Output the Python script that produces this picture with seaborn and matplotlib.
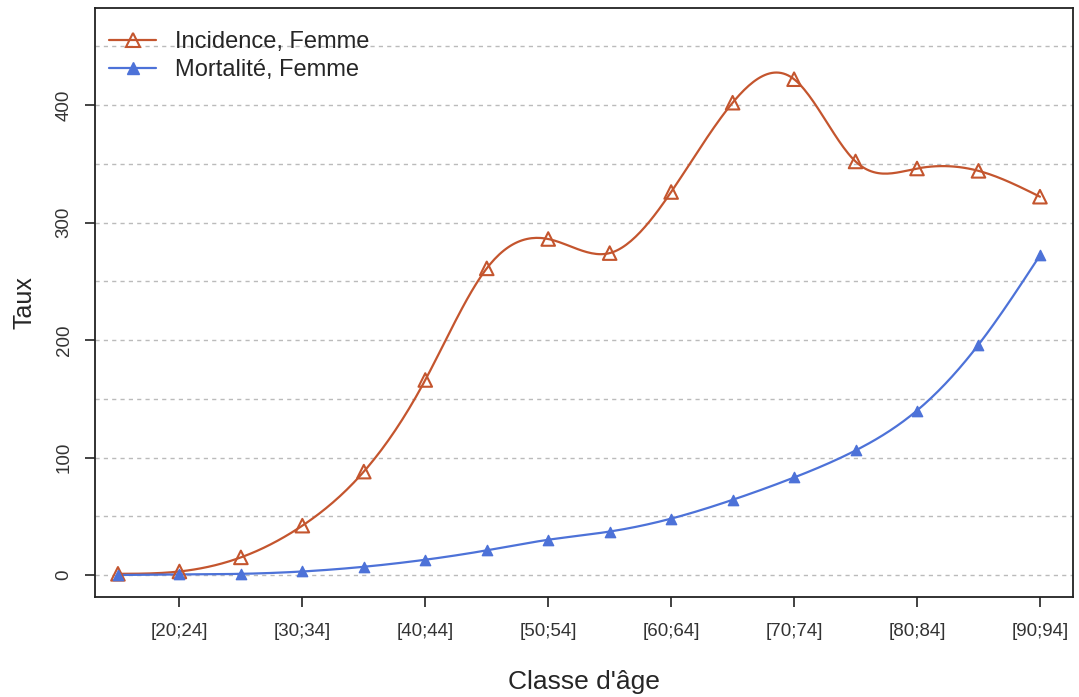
import numpy as np
import pandas as pd
import seaborn as sns
import matplotlib.pyplot as plt

# age classes and rates
classes = ["[15;19]", "[20;24]", "[25;29]", "[30;34]", "[35;39]", "[40;44]",
           "[45;49]", "[50;54]", "[55;59]", "[60;64]", "[65;69]", "[70;74]",
           "[75;79]", "[80;84]", "[85;89]", "[90;94]"]
incidence = [1, 3, 15, 42, 88, 166, 261, 286, 274, 326, 402, 422, 352, 346, 344, 322]
mortalite = [0, 0.5, 1, 3, 7, 13, 21, 30, 37, 48, 64, 83, 106, 140, 196, 272]

col_inc = "#C4552E"
col_mort = "#4D72D8"


def natural_spline(x, y, n=400):
    # plain natural cubic spline, like R's spline()
    x = np.asarray(x, float)
    y = np.asarray(y, float)
    h = np.diff(x)
    m = len(x)
    A = np.zeros((m, m))
    b = np.zeros(m)
    A[0, 0] = A[-1, -1] = 1
    for i in range(1, m - 1):
        A[i, i - 1] = h[i - 1]
        A[i, i] = 2 * (h[i - 1] + h[i])
        A[i, i + 1] = h[i]
        b[i] = 3 * ((y[i + 1] - y[i]) / h[i] - (y[i] - y[i - 1]) / h[i - 1])
    c = np.linalg.solve(A, b)
    xs = np.linspace(x[0], x[-1], n)
    idx = np.clip(np.searchsorted(x, xs) - 1, 0, m - 2)
    dx = xs - x[idx]
    bb = (y[idx + 1] - y[idx]) / h[idx] - h[idx] * (2 * c[idx] + c[idx + 1]) / 3
    dd = (c[idx + 1] - c[idx]) / (3 * h[idx])
    ys = y[idx] + bb * dx + c[idx] * dx ** 2 + dd * dx ** 3
    return xs, ys


pos = np.arange(len(classes))
df = pd.DataFrame({"pos": pos, "inc": incidence, "mort": mortalite})

sns.set_style("white")
plt.rcParams["font.family"] = ["Liberation Sans", "DejaVu Sans"]

fig = plt.figure(figsize=(10.79, 6.97), dpi=100)
ax = fig.add_axes([0.088, 0.1435, 0.9064, 0.845])

for yv in np.arange(0, 451, 50):
    ax.axhline(yv, color="#BBBBBB", lw=1, ls=(0, (3, 3)), zorder=0)

xs, ys = natural_spline(pos, incidence)
sns.lineplot(x=xs, y=ys, ax=ax, color=col_inc, lw=1.6)
xs, ys = natural_spline(pos, mortalite)
sns.lineplot(x=xs, y=ys, ax=ax, color=col_mort, lw=1.6)

ax.scatter(df["pos"], df["inc"], marker="^", s=95, facecolors="none",
           edgecolors=col_inc, linewidths=1.5, zorder=3)
ax.scatter(df["pos"], df["mort"], marker="^", s=55, color=col_mort, zorder=3)

ax.plot([], [], color=col_inc, marker="^", mfc="none", mew=1.5, ms=10, lw=1.6,
        label="Incidence, Femme")
ax.plot([], [], color=col_mort, marker="^", ms=8, lw=1.6,
        label="Mortalité, Femme")
ax.legend(loc="upper left", frameon=False, fontsize=17, handlelength=2.0,
          handletextpad=0.8, borderaxespad=0.2, labelspacing=0.25,
          bbox_to_anchor=(0.0, 0.985))

ax.set_xlim(-0.374, 15.537)
ax.set_ylim(-18.7, 482.6)
ax.set_xticks(pos[1::2])
ax.set_xticklabels(classes[1::2], fontsize=13.5, color="#333333")
ax.set_yticks([0, 100, 200, 300, 400])
ax.set_yticklabels(["0", "100", "200", "300", "400"], fontsize=13.5,
                   rotation=90, va="center", color="#333333")
ax.tick_params(axis="both", length=7, width=1.2, color="#222222",
               bottom=True, left=True, pad=9)
ax.tick_params(axis="x", pad=12)
for sp in ax.spines.values():
    sp.set_color("#222222")
    sp.set_linewidth(1.3)

ax.set_xlabel("Classe d'âge", fontsize=19, labelpad=21)
ax.set_ylabel("Taux", fontsize=18, labelpad=14)

fig.savefig("out.png", dpi=100)
